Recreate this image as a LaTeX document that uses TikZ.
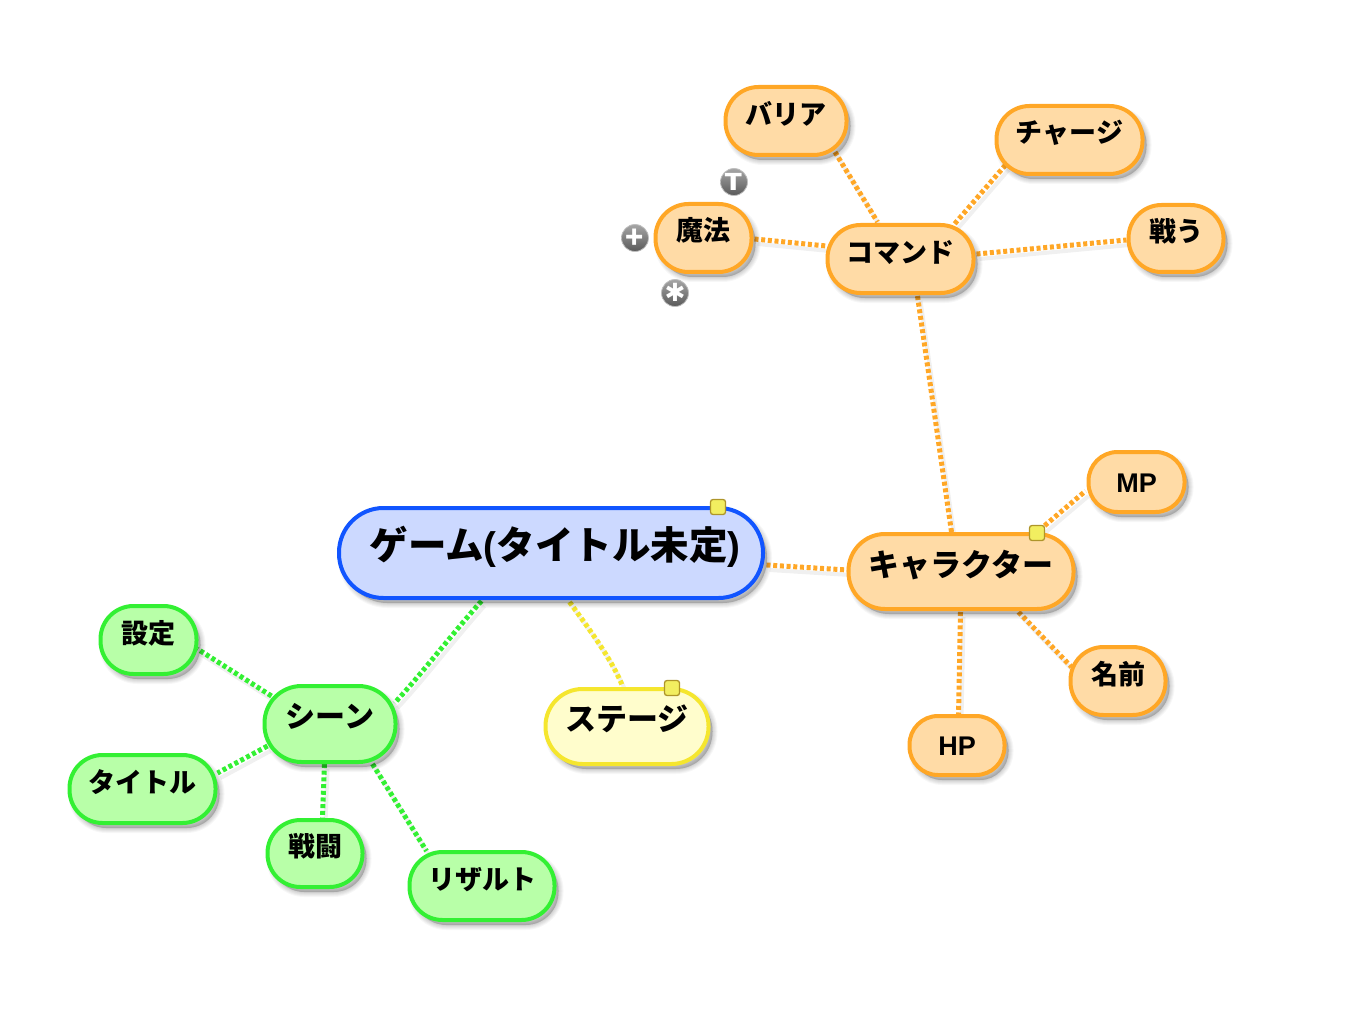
\documentclass[tikz,border=0pt]{standalone}
\usepackage{fontspec}
\setmainfont{Noto Sans CJK JP}
\newfontfamily\latinbold{Liberation Sans}
\newfontfamily\dingfont{DejaVu Sans}
\usetikzlibrary{backgrounds,calc}
\definecolor{orline}{HTML}{FFA726}
\definecolor{orfill}{HTML}{FFDBA6}
\definecolor{grline}{HTML}{33F033}
\definecolor{grfill}{HTML}{B8FFA8}
\definecolor{yeline}{HTML}{F5E62E}
\definecolor{yefill}{HTML}{FFFDCC}
\definecolor{blline}{HTML}{1155FF}
\definecolor{blfill}{HTML}{CCD9FF}
\definecolor{noteline}{HTML}{AE952A}
\definecolor{notefill}{HTML}{F2EE60}
\newcommand{\rlab}[2]{\raisebox{#1pt}[0pt][0pt]{#2}}
\newcommand{\lat}[1]{{\latinbold\bfseries #1}}
\tikzset{
  softshadow/.style={
    preaction={draw=black,fill=black,opacity=.03,line width=10,transform canvas={shift={(4,5)}}},
    preaction={draw=black,fill=black,opacity=.035,line width=8,transform canvas={shift={(4,5)}}},
    preaction={draw=black,fill=black,opacity=.04,line width=6,transform canvas={shift={(4,5)}}},
    preaction={draw=black,fill=black,opacity=.04,line width=4,transform canvas={shift={(4,5)}}},
    preaction={draw=black,fill=black,opacity=.04,line width=2,transform canvas={shift={(4,5)}}},
    preaction={draw=black,fill=black,opacity=.04,line width=.1,transform canvas={shift={(4,5)}}}},
  pill/.style={softshadow,rectangle,line width=4,inner sep=0,font=\bfseries\fontsize{27}{30}\selectfont,text=black},
  orbox/.style={pill,draw=orline,fill=orfill,rounded corners=33},
  grbox/.style={pill,draw=grline,fill=grfill,rounded corners=33},
  yebox/.style={pill,draw=yeline,fill=yefill,rounded corners=37},
  blbox/.style={pill,draw=blline,fill=blfill,rounded corners=44.5},
  bigtxt/.style={font=\bfseries\fontsize{31}{34}\selectfont},
  link/.style={line width=5,dash pattern=on 4 off 2.7,
    preaction={draw=black,solid,opacity=.06,line width=4,transform canvas={shift={(3,5)}}}},
  orlink/.style={link,draw=orline},
  grlink/.style={link,draw=grline},
  yelink/.style={link,draw=yeline},
  notemark/.style={draw=noteline,line width=1.3,fill=notefill,rounded corners=2.5,minimum size=15,inner sep=0},
  iconball/.style={circle,minimum size=27,inner sep=0,draw=black!25,line width=.8,top color=black!35,bottom color=black!65,text=white,font=\bfseries\fontsize{23}{23}\selectfont}
}
\begin{document}
\begin{tikzpicture}[x=1pt,y=-1pt]
\useasboundingbox (0,0) rectangle (1354,1032);
% nodes
\node[blbox,minimum width=424,minimum height=90,font=\bfseries\fontsize{38.5}{40}\selectfont] (main) at (551,553) {\rlab{-6}{\hspace{8pt}ゲーム\lat{(}タイトル未定\lat{)}}};
\node[orbox,bigtxt,minimum width=225,minimum height=75,rounded corners=36.5] (chara) at (961,571.5) {\rlab{-5}{キャラクター}};
\node[orbox,minimum width=146,minimum height=68] (cmd) at (900.5,259) {\rlab{-3}{コマンド}};
\node[orbox,minimum width=121,minimum height=68] (bari) at (786,121) {\rlab{-4}{バリア}};
\node[orbox,minimum width=146,minimum height=68] (charge) at (1069.5,140) {\rlab{-3}{チャージ}};
\node[orbox,minimum width=95,minimum height=67] (fight) at (1176,238.5) {\rlab{-3}{戦う}};
\node[orbox,minimum width=96,minimum height=68] (magic) at (703.5,238) {\rlab{-3}{魔法}};
\node[orbox,minimum width=96,minimum height=60,rounded corners=29] (mp) at (1136.5,482) {\rlab{-10}{\lat{MP}}};
\node[orbox,minimum width=95,minimum height=68] (name) at (1118,681) {\rlab{-3}{名前}};
\node[orbox,minimum width=95,minimum height=59,rounded corners=28.5] (hp) at (957,745.5) {\rlab{-10}{\lat{HP}}};
\node[grbox,bigtxt,minimum width=131,minimum height=76,rounded corners=37,font=\bfseries\fontsize{30}{34}\selectfont] (scene) at (330,724) {\rlab{-3}{シーン}};
\node[yebox,bigtxt,minimum width=163,minimum height=75] (stage) at (627,726.5) {\rlab{-4}{ステージ}};
\node[grbox,minimum width=96,minimum height=68] (setting) at (148.5,640) {\rlab{-3}{設定}};
\node[grbox,minimum width=146,minimum height=68] (title) at (142.5,789) {\rlab{-3}{タイトル}};
\node[grbox,minimum width=95,minimum height=67] (battle) at (315,853.5) {\rlab{-3}{戦闘}};
\node[grbox,minimum width=145,minimum height=68] (result) at (482,886) {\rlab{-3}{リザルト}};
% notes
\node[notemark] (n1) at (718,507) {};
\node[notemark] (n2) at (1037,533) {};
\node[notemark] (n3) at (672,688) {};
% icons
\node[iconball] (itext) at (734,182) {\scalebox{1.25}[1]{T}};
\node[iconball,font=\bfseries\fontsize{30}{30}\selectfont] (iplus) at (635,238) {\rlab{-11}{+}};
\node[iconball,font=\dingfont\fontsize{25}{25}\selectfont] (istar) at (675,293) {\rlab{-9}{✱}};
% connectors
\begin{pgfonlayer}{background}
\draw[orlink] ([shift={(215.5,12)}]main.center) -- ([shift={(-113.5,-1.5)}]chara.center);
\draw[orlink] ([shift={(17,37)}]cmd.center) -- ([shift={(-9.5,-39.5)}]chara.center);
\draw[orlink] ([shift={(78.5,-41.5)}]chara.center) -- ([shift={(-51,9)}]mp.center);
\draw[orlink] ([shift={(57.5,40.5)}]chara.center) -- ([shift={(-46.5,-14)}]name.center);
\draw[orlink] ([shift={(-0.5,40.5)}]chara.center) -- ([shift={(1.5,-30.5)}]hp.center);
\draw[orlink] ([shift={(49,31)}]bari.center) -- ([shift={(-23,-37)}]cmd.center);
\draw[orlink] ([shift={(-64,25)}]charge.center) -- ([shift={(54,-35)}]cmd.center);
\draw[orlink] ([shift={(76,-5)}]cmd.center) -- ([shift={(-49.5,1.5)}]fight.center);
\draw[orlink] ([shift={(51,1)}]magic.center) -- ([shift={(-74,-13)}]cmd.center);
\draw[grlink] ([shift={(-69.5,48)}]main.center) .. controls (452,634) and (420,676) .. ([shift={(64.5,-21)}]scene.center);
\draw[yelink] ([shift={(18.5,49)}]main.center) .. controls (590,630) and (612,660) .. ([shift={(-4.5,-40.5)}]stage.center);
\draw[grlink] ([shift={(-58.5,-28)}]scene.center) -- ([shift={(49,9)}]setting.center);
\draw[grlink] ([shift={(-62.5,22)}]scene.center) -- ([shift={(75,-16)}]title.center);
\draw[grlink] ([shift={(-5.5,40)}]scene.center) -- ([shift={(7.5,-35.5)}]battle.center);
\draw[grlink] ([shift={(42.5,40)}]scene.center) -- ([shift={(-55.5,-35)}]result.center);
\end{pgfonlayer}
\end{tikzpicture}
\end{document}
